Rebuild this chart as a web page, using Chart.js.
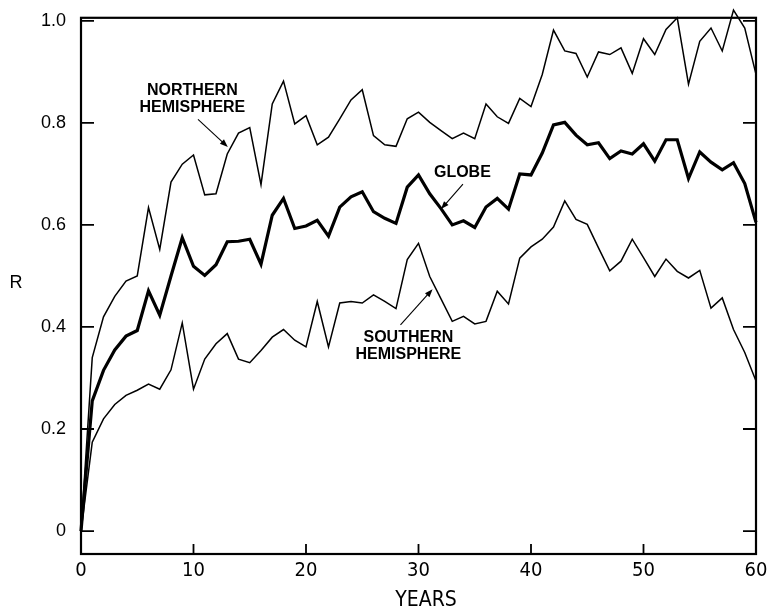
<!DOCTYPE html>
<html>
<head>
<meta charset="utf-8">
<script src="https://cdn.jsdelivr.net/npm/chart.js@4/dist/chart.umd.min.js"></script>
<style>
  html, body { margin: 0; padding: 0; background: #fff; }
  canvas { display: block; }
</style>
</head>
<body>
<canvas id="corr" width="768" height="613"></canvas>
<script>
// R versus lag in years, 0..60
const years = [];
for (let t = 0; t <= 60; t++) years.push(t);

const northern = [
  0, 0.34, 0.42, 0.46, 0.49, 0.50, 0.634, 0.552, 0.684, 0.719,
  0.737, 0.659, 0.661, 0.739, 0.780, 0.791, 0.679, 0.837, 0.882, 0.798,
  0.814, 0.757, 0.772, 0.808, 0.845, 0.865, 0.775, 0.757, 0.754, 0.808,
  0.821, 0.801, 0.785, 0.769, 0.780, 0.769, 0.837, 0.812, 0.799, 0.848,
  0.832, 0.895, 0.982, 0.941, 0.936, 0.890, 0.939, 0.934, 0.947, 0.897,
  0.965, 0.934, 0.983, 1.006, 0.876, 0.960, 0.986, 0.941, 1.021, 0.986,
  0.895
];

const globe = [
  0, 0.255, 0.315, 0.355, 0.382, 0.393, 0.471, 0.423, 0.500, 0.575,
  0.519, 0.501, 0.522, 0.567, 0.568, 0.572, 0.523, 0.619, 0.652, 0.593,
  0.598, 0.609, 0.578, 0.635, 0.655, 0.665, 0.626, 0.613, 0.603, 0.674,
  0.698, 0.661, 0.632, 0.600, 0.608, 0.595, 0.635, 0.652, 0.631, 0.700,
  0.698, 0.741, 0.796, 0.801, 0.776, 0.757, 0.761, 0.730, 0.745, 0.739,
  0.759, 0.725, 0.767, 0.767, 0.691, 0.743, 0.723, 0.708, 0.722, 0.681,
  0.605
];

const southern = [
  0, 0.174, 0.220, 0.248, 0.266, 0.276, 0.288, 0.278, 0.316, 0.408,
  0.278, 0.337, 0.367, 0.387, 0.337, 0.330, 0.354, 0.380, 0.395, 0.374,
  0.361, 0.450, 0.361, 0.447, 0.450, 0.447, 0.463, 0.450, 0.436, 0.532,
  0.564, 0.499, 0.455, 0.411, 0.421, 0.406, 0.411, 0.470, 0.445, 0.535,
  0.557, 0.572, 0.596, 0.647, 0.611, 0.601, 0.555, 0.510, 0.529, 0.572,
  0.536, 0.499, 0.533, 0.509, 0.496, 0.511, 0.437, 0.457, 0.395, 0.350,
  0.294
];

const xTicks = [0, 10, 20, 30, 40, 50, 60];
const yTicks = [0, 0.2, 0.4, 0.6, 0.8, 1.0];

// callout labels, placed in data units: text lines at (tx, ty), leader from (ax0, ay0) to tip (ax1, ay1)
const notes = [
  { lines: ['NORTHERN', 'HEMISPHERE'], tx: 9.9, ty: 0.846, ax0: 10.4, ay0: 0.807, ax1: 13.05, ay1: 0.753 },
  { lines: ['GLOBE'], tx: 33.9, ty: 0.702, ax0: 33.95, ay0: 0.680, ax1: 32.0, ay1: 0.631 },
  { lines: ['SOUTHERN', 'HEMISPHERE'], tx: 29.1, ty: 0.362, ax0: 28.4, ay0: 0.404, ax1: 31.25, ay1: 0.474 }
];

const toPoints = vals => years.map((t, i) => ({ x: t, y: vals[i] }));

function arrow(ctx, x0, y0, x1, y1) {
  const ang = Math.atan2(y1 - y0, x1 - x0);
  const len = 8, wid = 3;
  ctx.beginPath();
  ctx.moveTo(x0, y0);
  ctx.lineTo(x1 - Math.cos(ang) * len * 0.8, y1 - Math.sin(ang) * len * 0.8);
  ctx.stroke();
  ctx.beginPath();
  ctx.moveTo(x1, y1);
  ctx.lineTo(x1 - Math.cos(ang) * len - Math.sin(ang) * wid, y1 - Math.sin(ang) * len + Math.cos(ang) * wid);
  ctx.lineTo(x1 - Math.cos(ang) * len + Math.sin(ang) * wid, y1 - Math.sin(ang) * len - Math.cos(ang) * wid);
  ctx.closePath();
  ctx.fill();
}

// frame, inward tick marks, axis titles and callouts
const decorations = {
  id: 'decorations',
  afterDraw(chart) {
    const ctx = chart.ctx;
    const { left, right, top, bottom } = chart.chartArea;
    const xs = chart.scales.x, ys = chart.scales.y;
    ctx.save();
    ctx.strokeStyle = '#000';
    ctx.fillStyle = '#000';

    ctx.lineWidth = 2.2;
    ctx.strokeRect(left, top, right - left, bottom - top);

    ctx.lineWidth = 1.8;
    ctx.beginPath();
    yTicks.forEach(v => {
      const y = ys.getPixelForValue(v);
      ctx.moveTo(left, y); ctx.lineTo(left + 13, y);
      ctx.moveTo(right, y); ctx.lineTo(right - 13, y);
    });
    xTicks.slice(1, -1).forEach(v => {
      const x = xs.getPixelForValue(v);
      ctx.moveTo(x, bottom); ctx.lineTo(x, bottom - 10);
    });
    ctx.stroke();

    ctx.textAlign = 'center';
    ctx.textBaseline = 'middle';
    ctx.font = '18px "Liberation Sans", Arial, sans-serif';
    ctx.fillText('R', 16, 283);
    ctx.font = '21px "Liberation Sans Narrow", "DejaVu Sans Condensed", sans-serif';
    ctx.fillText('YEARS', 426, 601);

    ctx.font = 'bold 16px "Liberation Sans", Arial, sans-serif';
    ctx.lineWidth = 1.1;
    notes.forEach(n => {
      const tx = xs.getPixelForValue(n.tx), ty = ys.getPixelForValue(n.ty);
      n.lines.forEach((s, i) => {
        ctx.fillText(s, tx, ty + (i - (n.lines.length - 1) / 2) * 17);
      });
      arrow(ctx, xs.getPixelForValue(n.ax0), ys.getPixelForValue(n.ay0),
        xs.getPixelForValue(n.ax1), ys.getPixelForValue(n.ay1));
    });
    ctx.restore();
  }
};

const thin = { borderColor: '#000', borderWidth: 1.5, pointRadius: 0, tension: 0, fill: false, clip: false };

new Chart(document.getElementById('corr'), {
  type: 'line',
  data: {
    datasets: [
      { ...thin, label: 'Northern Hemisphere', data: toPoints(northern) },
      { ...thin, label: 'Southern Hemisphere', data: toPoints(southern) },
      { ...thin, label: 'Globe', data: toPoints(globe), borderWidth: 3.2 }
    ]
  },
  options: {
    responsive: false,
    animation: false,
    devicePixelRatio: 1,
    layout: { padding: { top: 15, right: 12, left: 0, bottom: 0 } },
    plugins: { legend: { display: false }, tooltip: { enabled: false } },
    scales: {
      x: {
        type: 'linear',
        min: 0,
        max: 60,
        grid: { display: false },
        border: { display: false },
        afterBuildTicks: s => { s.ticks = xTicks.map(v => ({ value: v })); },
        afterFit: s => { s.height = 59; },
        ticks: {
          color: '#000',
          padding: -3,
          maxRotation: 0,
          autoSkip: false,
          font: { family: '"Liberation Sans Narrow", "DejaVu Sans Condensed", sans-serif', size: 20 }
        }
      },
      y: {
        min: -0.045,
        max: 1.006,
        grid: { display: false },
        border: { display: false },
        afterBuildTicks: s => { s.ticks = yTicks.map(v => ({ value: v })); },
        afterFit: s => { s.width = 81; },
        ticks: {
          color: '#000',
          padding: 7,
          font: { family: '"Liberation Sans", Arial, sans-serif', size: 18 },
          callback: v => (v === 0 ? '0' : v.toFixed(1))
        }
      }
    }
  },
  plugins: [decorations]
});
</script>
</body>
</html>
